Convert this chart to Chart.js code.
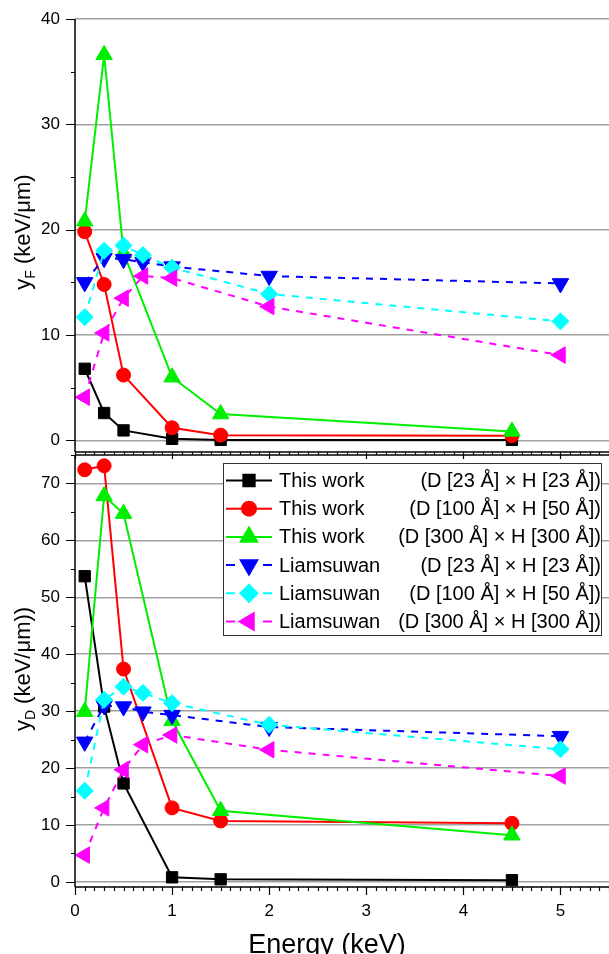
<!DOCTYPE html>
<html>
<head>
<meta charset="utf-8">
<script src="https://cdn.jsdelivr.net/npm/chart.js@4.4.1/dist/chart.umd.min.js"></script>
<style>
  html, body { margin: 0; padding: 0; background: #fff; }
  #wrap { position: relative; width: 609px; height: 954px; overflow: hidden; }
  canvas { position: absolute; left: 0; }
  #topChart { top: 0; }
  #bottomChart { top: 448px; }
</style>
</head>
<body>
<div id="wrap">
  <canvas id="topChart" width="609" height="462"></canvas>
  <canvas id="bottomChart" width="609" height="506"></canvas>
</div>
<script>
// energies (keV)
const workEnergy = [0.1, 0.3, 0.5, 1, 1.5, 4.5];
const liamEnergy = [0.1, 0.3, 0.5, 0.7, 1, 2, 5];

// y_F (keV/um)
const yfWork23  = [6.8, 2.6, 0.95, 0.15, 0.05, 0.05];
const yfWork100 = [19.8, 14.8, 6.2, 1.2, 0.5, 0.45];
const yfWork300 = [20.8, 36.6, 17.8, 6.0, 2.5, 0.85];
const yfLiam23  = [15.0, 17.3, 17.2, 16.9, 16.5, 15.6, 14.9];
const yfLiam100 = [11.7, 18.0, 18.5, 17.6, 16.4, 13.9, 11.3];
const yfLiam300 = [4.1, 10.2, 13.5, 15.6, 15.4, 12.7, 8.1];

// y_D (keV/um)
const ydWork23  = [53.7, 30.8, 17.3, 0.8, 0.45, 0.3];
const ydWork100 = [72.4, 73.1, 37.4, 13.0, 10.7, 10.3];
const ydWork300 = [29.9, 67.8, 64.7, 28.3, 12.5, 8.2];
const ydLiam23  = [24.6, 31.0, 30.8, 29.9, 29.3, 27.2, 25.6];
const ydLiam100 = [16.0, 32.0, 34.3, 33.2, 31.4, 27.6, 23.3];
const ydLiam300 = [4.7, 13.0, 19.7, 24.1, 25.8, 23.2, 18.6];

const seriesNames = ['This work', 'This work', 'This work', 'Liamsuwan', 'Liamsuwan', 'Liamsuwan'];
const seriesDims = [
  '(D [23 Å] × H [23 Å])',
  '(D [100 Å] × H [50 Å])',
  '(D [300 Å] × H [300 Å])',
  '(D [23 Å] × H [23 Å])',
  '(D [100 Å] × H [50 Å])',
  '(D [300 Å] × H [300 Å])'
];

// looks
const styles = [
  { color: '#000000', point: 'rect', rot: 0, r: 8, dash: [] },
  { color: '#ff0000', point: 'circle', rot: 0, r: 7, dash: [] },
  { color: '#00ee00', point: 'triangle', rot: 0, r: 9.5, dash: [] },
  { color: '#0000ff', point: 'triangle', rot: 180, r: 9.5, dash: [7, 7] },
  { color: '#00ffff', point: 'rectRot', rot: 0, r: 8.5, dash: [7, 7] },
  { color: '#ff00ff', point: 'triangle', rot: -90, r: 9.5, dash: [7, 7] }
];

const FONT = 'Liberation Sans, Arial, sans-serif';

function pts(xs, ys) {
  return xs.map((x, i) => ({ x: x, y: ys[i] }));
}

function makeDatasets(sets) {
  return sets.map((s, i) => ({
    label: seriesNames[i] + ' ' + seriesDims[i],
    data: pts(s[0], s[1]),
    borderColor: styles[i].color,
    backgroundColor: styles[i].color,
    borderWidth: 2,
    borderDash: styles[i].dash,
    pointStyle: styles[i].point,
    rotation: styles[i].rot,
    pointRadius: styles[i].r,
    pointBorderWidth: 1,
    pointBorderColor: styles[i].color,
    pointBackgroundColor: styles[i].color,
    tension: 0,
    clip: false,
    order: 5 - i
  }));
}

function subTitle(ctx, parts, size) {
  // 'y' + subscript + rest, centred on 0,0 (baseline)
  const big = size + 'px ' + FONT, small = Math.round(size * 0.65) + 'px ' + FONT;
  ctx.font = big; const w1 = ctx.measureText('y').width;
  ctx.font = small; const w2 = ctx.measureText(parts.sub).width;
  ctx.font = big; const w3 = ctx.measureText(parts.rest).width;
  let cx = -(w1 + w2 + w3) / 2;
  ctx.textBaseline = 'alphabetic';
  ctx.textAlign = 'left';
  ctx.font = big; ctx.fillText('y', cx, 0); cx += w1;
  ctx.font = small; ctx.fillText(parts.sub, cx, 5); cx += w2;
  ctx.font = big; ctx.fillText(parts.rest, cx, 0);
}

// axis lines + major/minor ticks + axis titles
const framePlugin = {
  id: 'frame',
  afterDraw(chart, args, o) {
    const { ctx, chartArea: a, scales: { x, y } } = chart;
    ctx.save();
    ctx.strokeStyle = '#000';
    ctx.lineWidth = 1.5;
    ctx.beginPath();
    ctx.moveTo(a.left, a.top);
    ctx.lineTo(a.left, a.bottom);
    ctx.moveTo(a.left, a.bottom);
    ctx.lineTo(a.right, a.bottom);
    if (o.topLine) {
      ctx.moveTo(a.left, a.top);
      ctx.lineTo(a.right, a.top);
    }
    ctx.stroke();
    ctx.lineWidth = 1.2;
    ctx.beginPath();
    for (let k = 0; k * o.yMinor <= y.max + 1e-6; k++) {
      const v = k * o.yMinor;
      const py = Math.round(y.getPixelForValue(v)) + 0.5;
      const len = (k % 2 === 0) ? 9 : 4;
      ctx.moveTo(a.left, py);
      ctx.lineTo(a.left - len, py);
    }
    for (let k = 0; k * 0.1 <= x.max + 1e-6; k++) {
      const px = Math.round(x.getPixelForValue(k / 10)) + 0.5;
      const len = (k % 10 === 0) ? o.major : o.minor;
      ctx.moveTo(px, a.bottom);
      ctx.lineTo(px, a.bottom + len);
    }
    ctx.stroke();

    ctx.fillStyle = '#000';
    if (o.xTitle) {
      ctx.font = '27px ' + FONT;
      ctx.textAlign = 'center';
      ctx.textBaseline = 'alphabetic';
      ctx.fillText(o.xTitle, o.xTitleX, o.xTitleY);
    }
    ctx.translate(o.titleX, o.titleY);
    ctx.rotate(-Math.PI / 2);
    subTitle(ctx, o, 22);
    ctx.restore();
  }
};

// two-column legend
const legendPlugin = {
  id: 'twoColLegend',
  afterDraw(chart, args, o) {
    if (!o.show) return;
    const ctx = chart.ctx;
    const bx = 223.5, by = 15.5, bw = 378, bh = 172;
    ctx.save();
    ctx.fillStyle = '#fff';
    ctx.fillRect(bx, by, bw, bh);
    ctx.strokeStyle = '#333';
    ctx.lineWidth = 1;
    ctx.strokeRect(bx, by, bw, bh);
    ctx.font = '20px ' + FONT;
    ctx.textBaseline = 'middle';
    chart.data.datasets.forEach((ds, i) => {
      const yy = 32.5 + i * 28.2;
      const st = styles[i];
      ctx.strokeStyle = st.color;
      ctx.lineWidth = 2;
      ctx.beginPath();
      if (st.dash.length) {
        ctx.moveTo(226, yy); ctx.lineTo(235, yy);
        ctx.moveTo(263, yy); ctx.lineTo(272, yy);
      } else {
        ctx.moveTo(226, yy); ctx.lineTo(272, yy);
      }
      ctx.stroke();
      ctx.fillStyle = st.color;
      Chart.helpers.drawPoint(ctx, {
        pointStyle: st.point, rotation: st.rot, radius: st.r, borderWidth: 1
      }, 249, yy);
      ctx.fillStyle = '#000';
      ctx.textAlign = 'left';
      ctx.fillText(seriesNames[i], 279, yy + 1);
      ctx.textAlign = 'right';
      ctx.fillText(seriesDims[i], 601, yy + 1);
    });
    ctx.restore();
  }
};

function makeChart(id, sets, yMin, yMax, opts) {
  return new Chart(document.getElementById(id), {
    type: 'line',
    data: { datasets: makeDatasets(sets) },
    plugins: [framePlugin, legendPlugin],
    options: {
      responsive: false,
      animation: false,
      events: [],
      layout: { autoPadding: false, padding: { left: 0, right: 0, top: opts.padTop, bottom: 0 } },
      plugins: {
        legend: { display: false },
        tooltip: { enabled: false },
        frame: opts.frame,
        twoColLegend: { show: opts.legend }
      },
      scales: {
        x: {
          type: 'linear', min: 0, max: 5.5,
          afterFit(s) { s.height = opts.xHeight; s.paddingLeft = 0; s.paddingRight = 0; },
          ticks: {
            display: opts.xLabels, stepSize: 1, includeBounds: false, padding: 14,
            color: '#000', font: { size: 17, family: FONT }
          },
          grid: { display: false, drawTicks: false },
          border: { display: false }
        },
        y: {
          type: 'linear', min: yMin, max: yMax,
          afterFit(s) { s.width = 75; s.paddingTop = 0; s.paddingBottom = 0; },
          ticks: {
            stepSize: 10, includeBounds: false, padding: 15,
            color: '#000', font: { size: 17, family: FONT }
          },
          grid: { color: '#a0a0a0', lineWidth: 1.5, drawTicks: false },
          border: { display: false }
        }
      }
    }
  });
}

makeChart('topChart', [
  [workEnergy, yfWork23], [workEnergy, yfWork100], [workEnergy, yfWork300],
  [liamEnergy, yfLiam23], [liamEnergy, yfLiam100], [liamEnergy, yfLiam300]
], -1.1, 40, {
  padTop: 19, xHeight: 10, xLabels: false, legend: false,
  frame: { yMinor: 5, major: 7, minor: 3, topLine: false, titleX: 30, titleY: 232, sub: 'F', rest: ' (keV/μm)' }
});

makeChart('bottomChart', [
  [workEnergy, ydWork23], [workEnergy, ydWork100], [workEnergy, ydWork300],
  [liamEnergy, ydLiam23], [liamEnergy, ydLiam100], [liamEnergy, ydLiam300]
], -0.9, 75, {
  padTop: 7, xHeight: 67, xLabels: true, legend: true,
  frame: {
    yMinor: 5, major: 8, minor: 4, topLine: true, titleX: 30, titleY: 221, sub: 'D', rest: ' (keV/μm))',
    xTitle: 'Energy (keV)', xTitleX: 327, xTitleY: 505
  }
});
</script>
</body>
</html>
